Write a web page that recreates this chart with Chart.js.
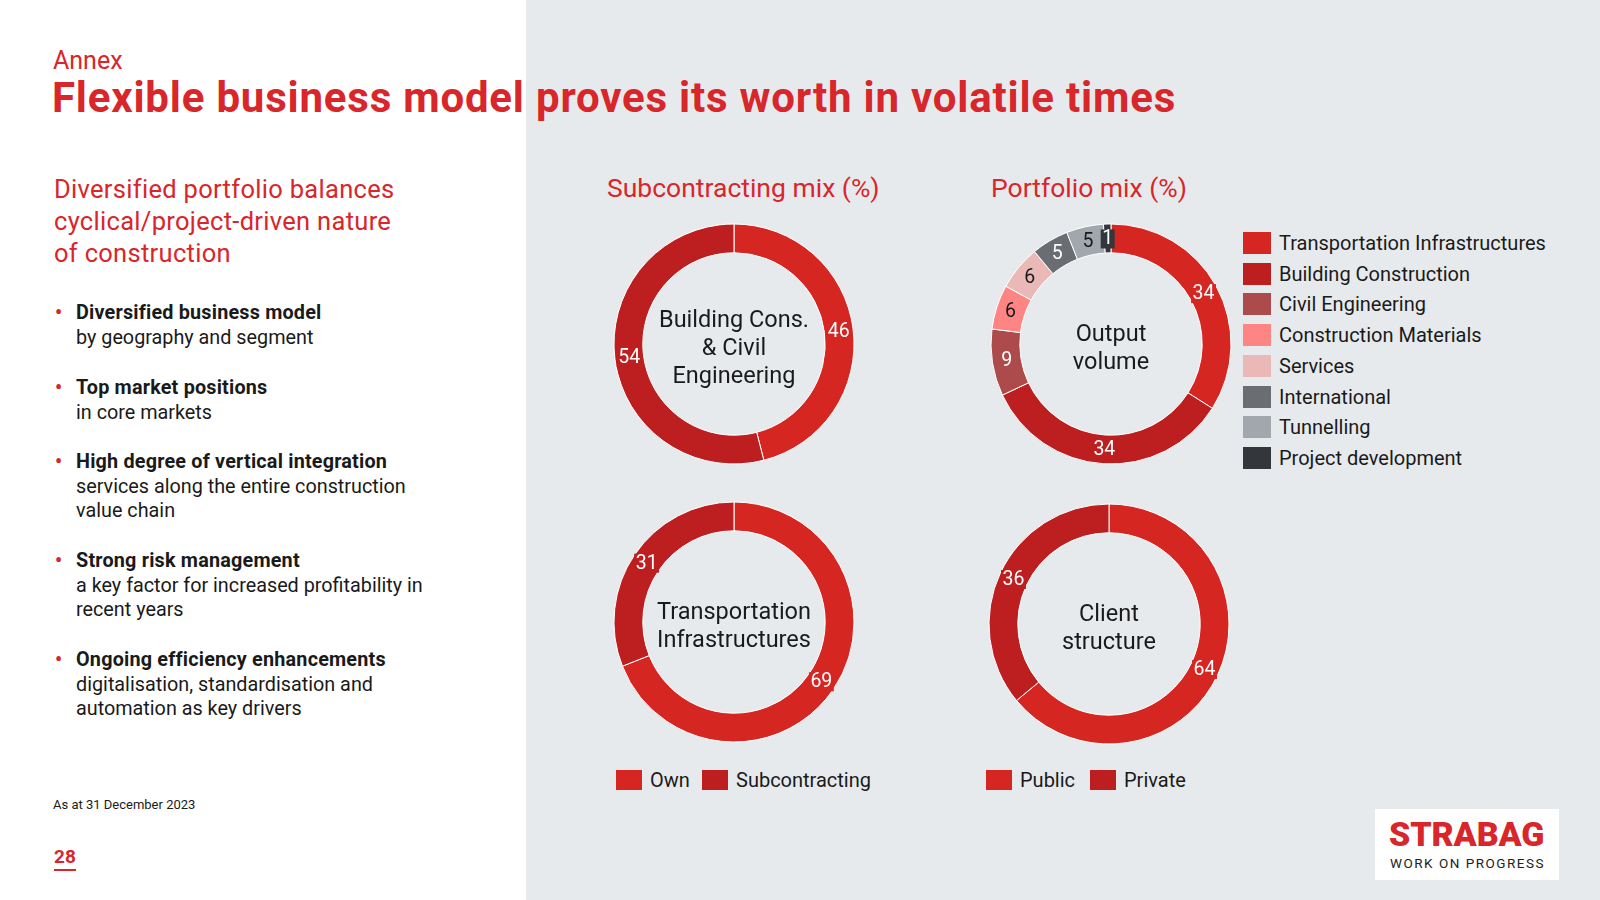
<!DOCTYPE html>
<html>
<head>
<meta charset="utf-8">
<script src="https://cdn.jsdelivr.net/npm/chart.js@4.4.1/dist/chart.umd.min.js"></script>
<style>
    body { margin: 0; width: 1600px; height: 900px; position: relative; overflow: hidden; background: #fff; font-family: Roboto, sans-serif; color: #1a1a1a; }
    .abs { position: absolute; white-space: nowrap; }
    #panel { position: absolute; left: 526px; top: 0; width: 1074px; height: 900px; background: #e7eaed; }
    .red { color: #d8262b; }
    .chart-box { position: absolute; width: 260px; height: 260px; }
    .legend-item { position: absolute; display: flex; align-items: center; font-size: 20px; line-height: 24px; color: #1a1a1a; white-space: nowrap; }
    .legend-item span.sw { display: inline-block; margin-right: 8px; }
    .bullet { position: absolute; left: 76px; font-size: 19.8px; line-height: 24.5px; white-space: nowrap; }
    .bullet b { font-weight: 700; letter-spacing: 0.2px; }
    .bullet::before { content: '•'; color: #d8262b; position: absolute; left: -21px; top: 0; font-weight: 700; }
</style>
</head>
<body>
<div id="panel"></div>

<div class="abs red" style="left:53px; top:46px; font-size:25px; line-height:30px;">Annex</div>
<div class="abs red" style="left:52px; top:73px; font-size:42px; line-height:50px; font-weight:700; letter-spacing:0.8px;">Flexible business model proves its worth in volatile times</div>

<div class="abs red" style="left:54px; top:173px; font-size:25.5px; line-height:32px; letter-spacing:0.3px;">Diversified portfolio balances<br>cyclical/project-driven nature<br>of construction</div>

<div class="bullet" style="top:301px;"><b>Diversified business model</b><br>by geography and segment</div>
<div class="bullet" style="top:376px;"><b>Top market positions</b><br>in core markets</div>
<div class="bullet" style="top:450px;"><b>High degree of vertical integration</b><br>services along the entire construction<br>value chain</div>
<div class="bullet" style="top:549px;"><b>Strong risk management</b><br>a key factor for increased profitability in<br>recent years</div>
<div class="bullet" style="top:648px;"><b>Ongoing efficiency enhancements</b><br>digitalisation, standardisation and<br>automation as key drivers</div>

<div class="abs" style="left:53px; top:797px; font-size:13px; line-height:16px;">As at 31 December 2023</div>
<div class="abs red" style="left:54px; top:845px; font-size:19px; line-height:24px; font-weight:700; border-bottom:2px solid #d8262b;">28</div>

<div class="abs red" style="left:607px; top:172px; font-size:26.5px; line-height:32px;">Subcontracting mix (%)</div>
<div class="abs red" style="left:991px; top:172px; font-size:26.5px; line-height:32px;">Portfolio mix (%)</div>

<div class="chart-box" style="left:604px; top:214px;"><canvas id="c-building" width="260" height="260"></canvas></div>
<div class="chart-box" style="left:981px; top:214px;"><canvas id="c-output" width="260" height="260"></canvas></div>
<div class="chart-box" style="left:604px; top:492px;"><canvas id="c-transport" width="260" height="260"></canvas></div>
<div class="chart-box" style="left:979px; top:494px;"><canvas id="c-client" width="260" height="260"></canvas></div>

<div id="legend-right"></div>
<div id="legend-bottom"></div>

<div class="abs" style="left:1375px; top:809px; width:184px; height:71px; background:#fff;"></div>
<div class="abs red" style="left:1389px; top:814px; font-size:34px; line-height:40px; font-weight:900; letter-spacing:-0.1px;">STRABAG</div>
<div class="abs" style="left:1390px; top:855px; font-size:13.5px; line-height:16px; letter-spacing:1.5px; color:#222;">WORK ON PROGRESS</div>

<script>
const ownSubLabels = ['Own', 'Subcontracting'];
const buildingCivilValues = [46, 54];
const transportValues = [69, 31];

const portfolioLabels = ['Transportation Infrastructures', 'Building Construction', 'Civil Engineering', 'Construction Materials', 'Services', 'International', 'Tunnelling', 'Project development'];
const outputVolumeValues = [34, 34, 9, 6, 6, 5, 5, 1];

const clientLabels = ['Public', 'Private'];
const clientValues = [64, 36];

const RED = '#d62622';
const DARK_RED = '#bd1e1f';
const portfolioColors = [RED, DARK_RED, '#ad4a4c', '#ff8584', '#ebb8b8', '#6a6d71', '#a2a7ad', '#33373b'];
const portfolioLabelColors = ['#fff', '#fff', '#fff', '#1a1a1a', '#1a1a1a', '#fff', '#1a1a1a', '#fff'];

// draws value labels at arc midpoints and the text in the hole
const donutText = {
    id: 'donutText',
    afterDatasetsDraw(chart, args, opts) {
        const ctx = chart.ctx;
        const meta = chart.getDatasetMeta(0);
        const ds = chart.data.datasets[0];
        ctx.save();
        ctx.font = '19.5px Roboto, sans-serif';
        ctx.textAlign = 'center';
        ctx.textBaseline = 'middle';
        meta.data.forEach((arc, i) => {
            const p = arc.tooltipPosition();
            const txt = String(ds.data[i]);
            const w = ctx.measureText(txt).width + 3;
            ctx.fillStyle = ds.backgroundColor[i];
            ctx.fillRect(p.x - w / 2, p.y - 9, w, 19);
            ctx.fillStyle = opts.labelColors ? opts.labelColors[i] : '#fff';
            ctx.fillText(txt, p.x, p.y + 1);
        });
        const cx = (chart.chartArea.left + chart.chartArea.right) / 2;
        const cy = (chart.chartArea.top + chart.chartArea.bottom) / 2 + 5;
        const lines = opts.lines || [];
        ctx.font = '23.5px Roboto, sans-serif';
        ctx.fillStyle = '#1a1a1a';
        lines.forEach((line, i) => {
            ctx.fillText(line, cx, cy + (i - (lines.length - 1) / 2) * 28);
        });
        ctx.restore();
    }
};

function makeDonut(id, labels, values, colors, lines, labelColors) {
    return new Chart(document.getElementById(id), {
        type: 'doughnut',
        data: {
            labels,
            datasets: [{
                data: values,
                backgroundColor: colors,
                borderColor: '#ffffff',
                borderWidth: 1,
                hoverOffset: 0
            }]
        },
        options: {
            responsive: false,
            animation: false,
            devicePixelRatio: 1,
            radius: 120,
            cutout: '76%',
            layout: { padding: 0 },
            events: [],
            plugins: {
                legend: { display: false },
                tooltip: { enabled: false },
                donutText: { lines, labelColors }
            }
        },
        plugins: [donutText]
    });
}

makeDonut('c-building', ownSubLabels, buildingCivilValues, [RED, DARK_RED], ['Building Cons.', '& Civil', 'Engineering']);
makeDonut('c-transport', ownSubLabels, transportValues, [RED, DARK_RED], ['Transportation', 'Infrastructures']);
makeDonut('c-output', portfolioLabels, outputVolumeValues, portfolioColors, ['Output', 'volume'], portfolioLabelColors);
makeDonut('c-client', clientLabels, clientValues, [RED, DARK_RED], ['Client', 'structure']);

// legends
const legendRight = document.getElementById('legend-right');
portfolioLabels.forEach((label, i) => {
    const item = document.createElement('div');
    item.className = 'legend-item';
    item.style.left = '1243px';
    item.style.top = (231 + i * 30.7) + 'px';
    item.innerHTML = `<span class="sw" style="background:${portfolioColors[i]}; width:28px; height:22px;"></span>${label}`;
    legendRight.appendChild(item);
});

const legendBottom = document.getElementById('legend-bottom');
const bottomItems = [
    { label: ownSubLabels[0], color: RED, x: 616 },
    { label: ownSubLabels[1], color: DARK_RED, x: 702 },
    { label: clientLabels[0], color: RED, x: 986 },
    { label: clientLabels[1], color: DARK_RED, x: 1090 }
];
bottomItems.forEach(it => {
    const item = document.createElement('div');
    item.className = 'legend-item';
    item.style.left = it.x + 'px';
    item.style.top = '768px';
    item.innerHTML = `<span class="sw" style="background:${it.color}; width:26px; height:20px;"></span>${it.label}`;
    legendBottom.appendChild(item);
});
</script>
</body>
</html>
